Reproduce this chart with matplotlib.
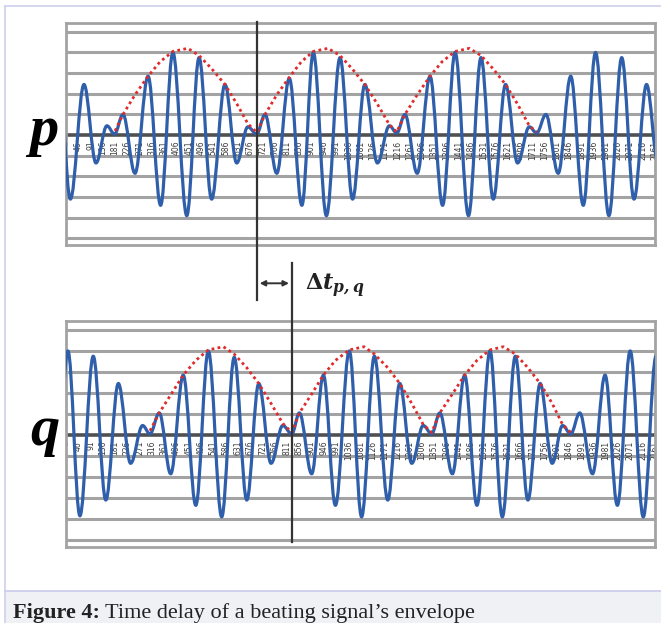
import matplotlib
matplotlib.use('Agg')
import matplotlib.pyplot as plt
from matplotlib.path import Path
from matplotlib.patches import PathPatch, FancyArrowPatch, Rectangle
from matplotlib.lines import Line2D
from matplotlib.transforms import blended_transform_factory

# peaks / troughs of the two beating signals (sample index, value)
p_x = [-28, 17, 67, 111, 151, 179, 210, 254, 302, 348, 393, 444, 489, 535, 584, 627,
       668, 700, 731, 774, 820, 866, 908, 956, 1006, 1052, 1097, 1143, 1187, 1214, 1244,
       1289, 1336, 1382, 1428, 1477, 1523, 1568, 1613, 1657, 1700, 1727, 1761, 1806, 1852,
       1898, 1943, 1992, 2039, 2084, 2130, 2172]
p_y = [3.75, -3.1, 2.45, -1.35, 0.45, 0.05, 1.0, -1.85, 2.85, -3.4, 4.0, -3.9, 3.75, -3.1,
       2.45, -1.35, 0.4, 0.05, 1.0, -1.85, 2.75, -3.4, 4.0, -3.9, 3.75, -3.1, 2.45, -1.35,
       0.45, 0.1, 1.0, -1.85, 2.85, -3.4, 4.0, -3.9, 3.75, -3.1, 2.45, -1.35, 0.4, 0.1,
       1.0, -1.85, 2.85, -3.4, 4.0, -3.9, 3.75, -3.1, 2.45, -1.35]
q_x = [-38, 8, 52, 101, 147, 193, 238, 282, 309, 343, 385, 431, 477, 523, 572, 618, 664,
       708, 753, 796, 829, 857, 902, 945, 989, 1040, 1085, 1132, 1181, 1225, 1269, 1311,
       1342, 1372, 1418, 1463, 1508, 1556, 1601, 1649, 1695, 1740, 1784, 1822, 1852, 1885,
       1932, 1978, 2023, 2070, 2118, 2165]
q_y = [-3.35, 4.0, -3.85, 3.75, -3.1, 2.45, -1.35, 0.45, 0.05, 1.05, -1.85, 2.85, -3.35,
       4.0, -3.9, 3.7, -3.1, 2.45, -1.35, 0.45, 0.05, 1.05, -1.85, 2.85, -3.35, 4.0, -3.9,
       3.75, -3.1, 2.45, -1.35, 0.45, 0.05, 1.05, -1.85, 2.85, -3.35, 4.0, -3.9, 3.75,
       -3.1, 2.45, -1.35, 0.45, 0.05, 1.05, -1.85, 2.85, -3.35, 4.0, -3.9, 3.75]

# envelopes (red dotted)
p_env_x = [181, 210, 254, 302, 346, 393, 448, 489, 536, 584, 628, 668, 701,
           731, 774, 820, 864, 908, 962, 1006, 1051, 1097, 1143, 1187, 1214,
           1244, 1289, 1336, 1380, 1428, 1480, 1523, 1568, 1613, 1657, 1700, 1727]
p_env_y = [0.2, 1.0, 1.95, 2.85, 3.55, 4.05, 4.2, 3.85, 3.2, 2.45, 1.5, 0.55, 0.12,
           1.0, 1.95, 2.8, 3.55, 4.05, 4.2, 3.85, 3.2, 2.45, 1.5, 0.5, 0.15,
           1.0, 1.95, 2.85, 3.55, 4.05, 4.2, 3.85, 3.2, 2.45, 1.5, 0.45, 0.15]
q_env_x = [309, 343, 387, 431, 477, 523, 578, 618, 664, 708, 753, 796, 829,
           857, 902, 945, 989, 1040, 1094, 1132, 1181, 1225, 1269, 1311, 1342,
           1372, 1418, 1463, 1508, 1556, 1605, 1649, 1695, 1740, 1784, 1822, 1852]
q_env_y = [0.2, 1.05, 1.95, 2.85, 3.55, 4.05, 4.2, 3.85, 3.2, 2.45, 1.5, 0.55, 0.12,
           1.05, 1.95, 2.85, 3.55, 4.05, 4.2, 3.85, 3.2, 2.45, 1.5, 0.5, 0.12,
           1.05, 1.95, 2.85, 3.55, 4.05, 4.2, 3.85, 3.2, 2.45, 1.5, 0.5, 0.12]

tick_pos = [1, 46, 91, 136, 181, 226, 271, 316, 361, 406, 451, 496, 541, 586, 631, 676,
            721, 766, 811, 856, 901, 946, 991, 1036, 1081, 1126, 1171, 1216, 1261, 1306,
            1351, 1396, 1441, 1486, 1531, 1576, 1621, 1666, 1711, 1756, 1801, 1846, 1891,
            1936, 1981, 2026, 2071, 2116, 2161]
grid_levels = [-5, -4, -3, -2, -1, 1, 2, 3, 4, 5]

delay_p = 701   # envelope minimum of p
delay_q = 829   # same minimum in q

BLUE = '#2f5faa'
RED = '#e02b2b'
GRID = '#a3a3a3'


def wave_path(xs, ys):
    # smooth curve through the extrema, flat tangent at every peak/trough
    verts = [(xs[0], ys[0])]
    codes = [Path.MOVETO]
    for i in range(1, len(xs)):
        d = (xs[i] - xs[i-1]) * 0.364
        verts += [(xs[i-1] + d, ys[i-1]), (xs[i] - d, ys[i]), (xs[i], ys[i])]
        codes += [Path.CURVE4] * 3
    return Path(verts, codes)


def panel(ax, xs, ys, ex, ey):
    ax.set_xlim(1, 2161)
    ax.set_ylim(-5.32, 5.44)
    for v in grid_levels:
        ax.axhline(v, color=GRID, lw=2.2, zorder=1)
    ax.axhline(0, color='#505050', lw=2.6, zorder=2)
    for t in tick_pos:
        ax.text(t, -0.28, str(t), rotation=90, ha='center', va='top',
                fontsize=5.5, color='#3a3a3a', zorder=2, clip_on=True)
    ax.add_patch(PathPatch(wave_path(xs, ys), fill=False, edgecolor=BLUE, lw=2.3,
                           joinstyle='round', capstyle='round', zorder=3))
    ax.plot(ex, ey, color=RED, lw=2.0, ls=(0, (1, 1.2)), zorder=4)
    ax.set_xticks([])
    ax.set_yticks([])
    for s in ax.spines.values():
        s.set_color(GRID)
        s.set_linewidth(2)


W, H = 661, 623
fig = plt.figure(figsize=(W/100, H/100), dpi=100)

ax_p = fig.add_axes([66/W, 1-245/H, 589/W, 222.3/H])
ax_q = fig.add_axes([66/W, 1-546.7/H, 589/W, 226/H])
panel(ax_p, p_x, p_y, p_env_x, p_env_y)
panel(ax_q, q_x, q_y, q_env_x, q_env_y)

# delay markers
tr = blended_transform_factory(ax_p.transData, fig.transFigure)
fig.add_artist(Line2D([delay_p, delay_p], [1-22/H, 1-300/H], transform=tr,
                      color='#333333', lw=1.6))
fig.add_artist(Line2D([delay_q, delay_q], [1-263/H, 1-541.7/H], transform=tr,
                      color='#333333', lw=1.6))
fig.add_artist(FancyArrowPatch((delay_p, 1-283.3/H), (delay_q, 1-283.3/H), transform=tr,
                               arrowstyle='<|-|>', mutation_scale=8, color='#333333', lw=1.4))
plt.rcParams['mathtext.fontset'] = 'dejavuserif'
fig.text(305/W, 1-286/H, r'$\mathbf{\Delta}\mathbfit{t}_{\mathbfit{p,q}}$', fontsize=16,
         va='center', ha='left', color='#222222')

fig.text(44/W, 1-145/H, 'p', fontsize=42, family='Liberation Serif', weight='bold',
         style='italic', ha='center', va='baseline')
fig.text(45/W, 1-445/H, 'q', fontsize=42, family='Liberation Serif', weight='bold',
         style='italic', ha='center', va='baseline')

# page frame and caption strip
fig.add_artist(Rectangle((5/W, 0), 1, 1-590.7/H, transform=fig.transFigure,
                         facecolor='#f0f1f5', edgecolor='none', zorder=0))
fig.add_artist(Line2D([5/W, 1], [1-590.7/H, 1-590.7/H], color='#c9cbeb', lw=1.2))
fig.add_artist(Line2D([5/W, 1], [1-5.5/H, 1-5.5/H], color='#cdd0ee', lw=1.2))
fig.add_artist(Line2D([5/W, 5/W], [0, 1-5.5/H], color='#cdd0ee', lw=1.2))

t1 = fig.text(13/W, 1-618/H, 'Figure 4:', fontsize=16, family='Liberation Serif',
              weight='bold', va='baseline', color='#222222')
fig.canvas.draw()
bb = t1.get_window_extent(fig.canvas.get_renderer())
fig.text(bb.x1/W + 5/W, 1-618/H, 'Time delay of a beating signal\u2019s envelope',
         fontsize=16, family='Liberation Serif', va='baseline', color='#222222')

fig.savefig('out.png', dpi=100)
